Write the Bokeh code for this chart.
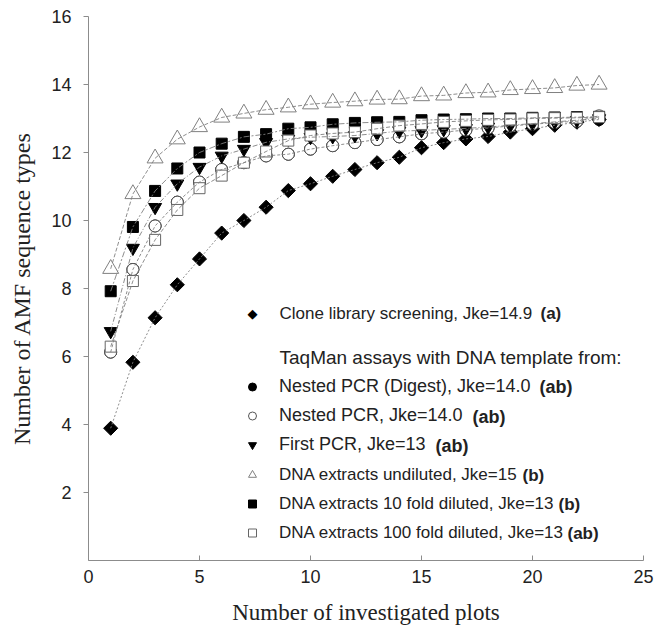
import math
from bokeh.plotting import figure
from bokeh.models import Range1d, FixedTicker, Legend, LegendItem, Label
from bokeh.embed import file_html
from bokeh.resources import INLINE

# ---------------- data ----------------
plots = list(range(1, 24))
clone_library = [3.89, 5.83, 7.14, 8.11, 8.87, 9.63, 10.0, 10.39, 10.88, 11.08, 11.3, 11.5,
                 11.7, 11.86, 12.14, 12.29, 12.4, 12.47, 12.6, 12.7, 12.8, 12.89, 12.97]
nested_digest = [6.13, 8.56, 9.84, 10.54, 11.13, 11.5, 11.7, 11.9, 11.95, 12.1, 12.2, 12.29,
                 12.38, 12.46, 12.55, 12.6, 12.66, 12.72, 12.78, 12.83, 12.88, 12.92, 12.97]
nested_pcr = [6.13, 8.56, 9.84, 10.54, 11.13, 11.5, 11.7, 11.9, 11.95, 12.1, 12.2, 12.29,
              12.38, 12.46, 12.55, 12.6, 12.66, 12.72, 12.78, 12.83, 12.88, 12.92, 13.08]
first_pcr = [6.74, 9.19, 10.39, 11.08, 11.57, 11.9, 12.1, 12.3, 12.4, 12.45, 12.47, 12.5,
             12.56, 12.63, 12.65, 12.68, 12.71, 12.75, 12.8, 12.85, 12.9, 12.95, 13.0]
dna_undiluted = [8.58, 10.78, 11.83, 12.39, 12.75, 13.03, 13.15, 13.26, 13.33, 13.42, 13.47, 13.51,
                 13.56, 13.57, 13.66, 13.68, 13.75, 13.77, 13.84, 13.87, 13.9, 13.97, 14.0]
dna_10fold = [7.92, 9.81, 10.87, 11.53, 12.0, 12.26, 12.46, 12.54, 12.7, 12.74, 12.83, 12.87,
              12.89, 12.9, 12.95, 12.97, 12.98, 13.0, 13.0, 13.02, 13.03, 13.04, 13.05]
dna_100fold = [6.29, 8.22, 9.43, 10.31, 10.95, 11.32, 11.7, 12.03, 12.35, 12.5, 12.56, 12.6,
               12.7, 12.79, 12.84, 12.9, 12.93, 12.96, 12.97, 13.0, 13.01, 13.02, 13.04]

x_ticks = [0, 5, 10, 15, 20, 25]
y_ticks = [2, 4, 6, 8, 10, 12, 14, 16]

labels_main = ["Clone library screening, Jke=14.9",
               "Nested PCR (Digest), Jke=14.0",
               "Nested PCR, Jke=14.0",
               "First PCR, Jke=13",
               "DNA extracts undiluted, Jke=15",
               "DNA extracts 10 fold diluted, Jke=13",
               "DNA extracts 100 fold diluted, Jke=13"]
labels_bold = ["(a)", "(ab)", "(ab)", "(ab)", "(b)", "(b)", "(ab)"]
header_text = "TaqMan assays with DNA template from:"
x_title = "Number of investigated plots"
y_title = "Number of AMF sequence types"

# ---------------- layout ----------------
W, H = 657, 628
LEFT, RIGHT, TOP, BOTTOM = 88, 14, 16, 68
XMAX, YMAX = 25, 16
FW, FH = W - LEFT - RIGHT, H - TOP - BOTTOM


def px_x(px):
    return (px - LEFT) / FW * XMAX


def px_y(py):
    return (H - BOTTOM - py) / FH * YMAX


SANS = "Liberation Sans"
SERIF = "Liberation Serif"
TXT = "#222222"
AX = "#8c8c8c"

p = figure(width=W, height=H, output_backend="svg", toolbar_location=None,
           x_range=Range1d(0, XMAX), y_range=Range1d(0, YMAX),
           min_border_left=LEFT, min_border_right=RIGHT,
           min_border_top=TOP, min_border_bottom=BOTTOM)
p.outline_line_color = None
p.grid.visible = False
p.background_fill_color = "white"
p.border_fill_color = "white"

xa = p.xaxis[0]
xa.ticker = FixedTicker(ticks=x_ticks)
xa.major_tick_in = 5
xa.major_tick_out = 0
xa.minor_tick_line_color = None
xa.axis_line_color = AX
xa.major_tick_line_color = AX
xa.major_label_text_font = SANS
xa.major_label_text_font_size = "18px"
xa.major_label_text_color = TXT
xa.major_label_standoff = 9
xa.axis_label = x_title
xa.axis_label_text_font = SERIF
xa.axis_label_text_font_size = "23px"
xa.axis_label_text_font_style = "normal"
xa.axis_label_text_color = TXT
xa.axis_label_standoff = 14

ya = p.yaxis[0]
ya.ticker = FixedTicker(ticks=y_ticks)
ya.major_tick_in = 0
ya.major_tick_out = 5
ya.minor_tick_line_color = None
ya.axis_line_color = AX
ya.major_tick_line_color = AX
ya.major_label_text_font = SANS
ya.major_label_text_font_size = "18px"
ya.major_label_text_color = TXT
ya.major_label_standoff = 12
ya.axis_label = y_title
ya.axis_label_text_font = SERIF
ya.axis_label_text_font_size = "24px"
ya.axis_label_text_font_style = "normal"
ya.axis_label_text_color = TXT
ya.axis_label_standoff = 13

# ---------------- markers ----------------
r_clone = p.scatter(plots, clone_library, marker="square", angle=math.pi / 4, size=10,
                    fill_color="black", line_color="black")
r_digest = p.scatter(plots, nested_digest, marker="circle", size=12,
                     fill_color="black", line_color="black")
r_nested = p.scatter(plots, nested_pcr, marker="circle", size=12,
                     fill_color="white", line_color="#555555", line_width=1)
r_first = p.scatter(plots, first_pcr, marker="inverted_triangle", size=13,
                    fill_color="black", line_color="black")
r_undil = p.scatter(plots, dna_undiluted, marker="triangle", size=16,
                    fill_color="white", line_color="#808080", line_width=1)
r_10 = p.scatter(plots, dna_10fold, marker="square", size=11,
                 fill_color="black", line_color="black")
r_100 = p.scatter(plots, dna_100fold, marker="square", size=11,
                  fill_color="white", line_color="#666666", line_width=1)

# ---------------- trend lines (on top, as in the original) ----------------
LC = "#808080"
p.line(plots, clone_library, line_color=LC, line_width=0.9, line_dash="2 2")
p.line(plots, nested_pcr, line_color=LC, line_width=0.9, line_dash="3 2")
p.line(plots, first_pcr, line_color=LC, line_width=0.9, line_dash="5 2 1 2")
p.line(plots, dna_undiluted, line_color=LC, line_width=0.9, line_dash="4 2")
p.line(plots, dna_10fold, line_color=LC, line_width=0.9, line_dash="6 2 2 2")
p.line(plots, dna_100fold, line_color=LC, line_width=0.9, line_dash="4 2")

# ---------------- legend ----------------
ROW = 29
GLW = 20


def make_legend(renderers, labels, top_center_py, font_size):
    n = len(renderers)
    top = top_center_py - ROW / 2
    bottom = top + n * ROW
    leg = Legend(items=[LegendItem(label=l, renderers=[r]) for l, r in zip(labels, renderers)],
                 location=(242 - LEFT, (H - BOTTOM) - bottom),
                 orientation="vertical", glyph_width=GLW, glyph_height=ROW,
                 label_height=ROW, label_standoff=17, padding=0, spacing=0, margin=0,
                 border_line_alpha=0, background_fill_alpha=0,
                 label_text_font=SANS, label_text_font_size=font_size,
                 label_text_color=TXT)
    p.add_layout(leg)


# first entry: diamond symbol drawn as text, then the label text
p.add_layout(Label(x=px_x(252), y=px_y(313), text="\u25c6", text_font="DejaVu Sans",
                   text_font_size="13px", text_color="black", text_align="center",
                   text_baseline="middle"))
p.add_layout(Label(x=px_x(279), y=px_y(313), text=labels_main[0], text_font=SANS,
                   text_font_size="17px", text_color=TXT, text_baseline="middle",
                   text_align="left"))

make_legend([r_digest, r_nested, r_first], labels_main[1:4], 386, "18px")
make_legend([r_undil, r_10, r_100], labels_main[4:], 474.5, "17px")

p.add_layout(Label(x=px_x(279), y=px_y(357), text=header_text, text_font=SANS,
                   text_font_size="19px", text_color=TXT, text_baseline="middle",
                   text_align="left"))

bold_pos = [(540, 313), (539, 386), (472, 416), (435, 445), (522, 474.5), (558, 503.5), (567, 532.5)]
bold_size = ["17px", "18px", "18px", "18px", "17px", "17px", "17px"]
for txt, (bx, by), fs in zip(labels_bold, bold_pos, bold_size):
    p.add_layout(Label(x=px_x(bx), y=px_y(by), text=txt, text_font=SANS,
                       text_font_size=fs, text_font_style="bold", text_color=TXT,
                       text_baseline="middle", text_align="left"))

open("out.html", "w").write(file_html(p, INLINE))
